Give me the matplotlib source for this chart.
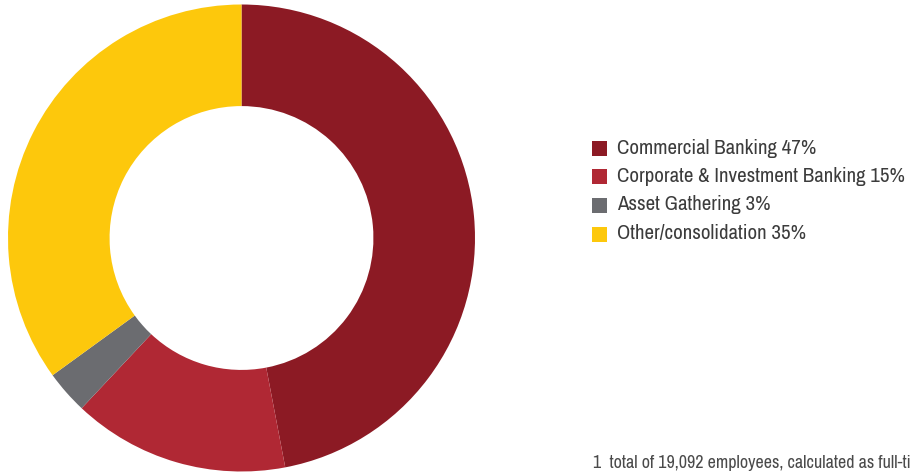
import matplotlib
matplotlib.use("Agg")
import matplotlib.pyplot as plt
from matplotlib import font_manager as fm
from matplotlib.patches import Rectangle

labels = ["Commercial Banking 47%", "Corporate & Investment Banking 15%",
          "Asset Gathering 3%", "Other/consolidation 35%"]
values = [47, 15, 3, 35]
colors = ["#8C1A24", "#B02834", "#6B6C70", "#FDC80C"]
footnote = "1  total of 19,092 employees, calculated as full-time equivalents"

# pick a narrow sans face if available
fonts = fm.fontManager.ttflist
names = sorted({f.name for f in fonts})
cands = [n for n in names if "Narrow" in n or "Condensed" in n]
family = cands[0] if cands else "DejaVu Sans"
stretch = "normal"
if not cands:
    if any(f.name == "DejaVu Sans" and "ondensed" in f.fname for f in fonts):
        stretch = "condensed"
fam = [family, "DejaVu Sans"]

W, H = 912, 472
fig = plt.figure(figsize=(W / 100, H / 100), dpi=100)
fig.patch.set_facecolor("white")

cx, cy, r = 241.5, 472 - 238, 233.5
ax = fig.add_axes([(cx - r) / W, (cy - r) / H, 2 * r / W, 2 * r / H])
ax.pie(values, colors=colors, startangle=90, counterclock=False, radius=1,
       wedgeprops=dict(width=0.435, edgecolor="none"))
ax.set_xlim(-1, 1)
ax.set_ylim(-1, 1)
ax.set_aspect("equal")
ax.axis("off")

renderer = fig.canvas.get_renderer()

# fit font size so the longest label spans ~289 px (as in reference)
probe = fig.text(0, 0, labels[1], family=fam, fontstretch=stretch, fontsize=13)
w = probe.get_window_extent(renderer).width
probe.remove()
fs = 13 * 289 / w
fs = max(10, min(fs, 16))

# footnote: "1  total of 19,092 employees, calculated as full-t" spans ~312 px
probe = fig.text(0, 0, "1  total of 19,092 employees, calculated as full-t",
                 family=fam, fontstretch=stretch, fontsize=12)
wf = probe.get_window_extent(renderer).width
probe.remove()
ffs = 12 * 312 / wf
ffs = max(9, min(ffs, 15))

ys = [148, 176.5, 205, 234]
for lab, col, y in zip(labels, colors, ys):
    fig.patches.append(Rectangle((592 / W, (H - y - 7.5) / H), 15 / W, 15 / H,
                                 transform=fig.transFigure, facecolor=col,
                                 edgecolor="none"))
    fig.text(617 / W, (H - y) / H, lab, family=fam, fontstretch=stretch,
             fontsize=fs, color="#3C3C3C", va="center", ha="left")

fig.text(593 / W, (H - 463) / H, footnote, family=fam, fontstretch=stretch,
         fontsize=ffs, color="#4A4A4A", va="center", ha="left")

fig.savefig("out.png", dpi=100, facecolor="white")
